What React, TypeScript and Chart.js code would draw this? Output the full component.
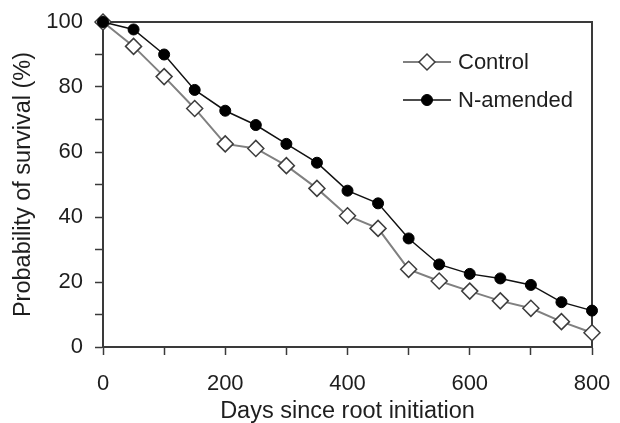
import React, { useEffect, useRef } from 'react';
import { Chart, registerables } from 'chart.js';

Chart.register(...registerables);

const days = [0, 50, 100, 150, 200, 250, 300, 350, 400, 450, 500, 550, 600, 650, 700, 750, 800];
const controlSurvival = [100, 92.5, 83.2, 73.4, 62.5, 61.1, 55.8, 48.8, 40.4, 36.5, 23.9, 20.3, 17.2, 14.2, 11.9, 7.8, 4.4];
const nAmendedSurvival = [100, 97.7, 90.0, 79.1, 72.7, 68.3, 62.5, 56.7, 48.1, 44.2, 33.4, 25.4, 22.5, 21.1, 19.1, 13.8, 11.2];
const seriesLabels = ['Control', 'N-amended'];
const xAxisTitle = 'Days since root initiation';
const yAxisTitle = 'Probability of survival (%)';

const FONT = "'Liberation Sans', Arial, Helvetica, sans-serif";
const AXIS_COLOR = '#3a3a3a';
const TEXT_COLOR = '#1e1e1e';

const framePlugin = {
  id: 'frame',
  beforeDatasetsDraw(chart: any) {
    const { ctx, chartArea } = chart;
    ctx.save();
    ctx.strokeStyle = AXIS_COLOR;
    ctx.lineWidth = 2;
    ctx.beginPath();
    ctx.moveTo(chartArea.left, chartArea.top);
    ctx.lineTo(chartArea.right, chartArea.top);
    ctx.lineTo(chartArea.right, chartArea.bottom);
    ctx.stroke();
    ctx.restore();
  },
};

const legendPlugin = {
  id: 'lineLegend',
  afterDraw(chart: any) {
    const { ctx, chartArea } = chart;
    const x0 = chartArea.left + 300;
    const rows = [chartArea.top + 40, chartArea.top + 78];
    chart.data.datasets.forEach((ds: any, i: number) => {
      const y = rows[i];
      ctx.save();
      ctx.strokeStyle = ds.borderColor;
      ctx.lineWidth = ds.borderWidth;
      ctx.beginPath();
      ctx.moveTo(x0, y);
      ctx.lineTo(x0 + 48, y);
      ctx.stroke();
      ctx.restore();
      const cx = x0 + 24;
      ctx.save();
      ctx.fillStyle = ds.pointBackgroundColor;
      ctx.strokeStyle = ds.pointBorderColor;
      ctx.lineWidth = ds.pointBorderWidth;
      ctx.beginPath();
      if (ds.pointStyle === 'rectRot') {
        const r = ds.pointRadius;
        ctx.moveTo(cx, y - r);
        ctx.lineTo(cx + r, y);
        ctx.lineTo(cx, y + r);
        ctx.lineTo(cx - r, y);
        ctx.closePath();
      } else {
        ctx.arc(cx, y, ds.pointRadius, 0, Math.PI * 2);
      }
      ctx.fill();
      ctx.stroke();
      ctx.restore();
      ctx.save();
      ctx.fillStyle = TEXT_COLOR;
      ctx.font = `22px ${FONT}`;
      ctx.textBaseline = 'middle';
      ctx.textAlign = 'left';
      ctx.fillText(ds.label, x0 + 55, y + 1);
      ctx.restore();
    });
  },
};

export default function App() {
  const canvasRef = useRef<HTMLCanvasElement | null>(null);

  useEffect(() => {
    const canvas = canvasRef.current;
    if (!canvas) return;
    const chart = new Chart(canvas, {
      type: 'line',
      data: {
        datasets: [
          {
            label: seriesLabels[0],
            data: days.map((d, i) => ({ x: d, y: controlSurvival[i] })),
            borderColor: '#808080',
            borderWidth: 2,
            pointStyle: 'rectRot',
            pointRadius: 8,
            pointBackgroundColor: '#ffffff',
            pointBorderColor: '#3c3c3c',
            pointBorderWidth: 1.5,
            tension: 0,
            clip: false,
            order: 2,
          },
          {
            label: seriesLabels[1],
            data: days.map((d, i) => ({ x: d, y: nAmendedSurvival[i] })),
            borderColor: '#111111',
            borderWidth: 1.5,
            pointStyle: 'circle',
            pointRadius: 5.5,
            pointBackgroundColor: '#000000',
            pointBorderColor: '#000000',
            pointBorderWidth: 1,
            tension: 0,
            clip: false,
            order: 1,
          },
        ] as any,
      },
      options: {
        animation: false,
        responsive: false,
        devicePixelRatio: 1,
        layout: { padding: { top: 22, right: 28, left: 0, bottom: 0 } },
        plugins: {
          legend: { display: false },
          tooltip: { enabled: false },
        },
        scales: {
          x: {
            type: 'linear',
            min: 0,
            max: 800,
            afterFit: (scale: any) => {
              scale.height = 76;
              scale.paddingLeft = 0;
              scale.paddingRight = 0;
            },
            ticks: {
              stepSize: 100,
              autoSkip: false,
              maxRotation: 0,
              padding: 16,
              color: TEXT_COLOR,
              font: { family: FONT, size: 22 },
              callback: (v: any) => (Number(v) % 200 === 0 ? String(v) : ''),
            },
            grid: {
              display: true,
              drawOnChartArea: false,
              drawTicks: true,
              tickLength: 8,
              tickWidth: 1.5,
              tickColor: AXIS_COLOR,
            },
            border: { display: true, color: AXIS_COLOR, width: 2 },
            title: {
              display: true,
              text: xAxisTitle,
              color: TEXT_COLOR,
              font: { family: FONT, size: 23.5, lineHeight: 1 },
              padding: { top: 0, bottom: 0 },
            },
          },
          y: {
            type: 'linear',
            min: 0,
            max: 100,
            afterFit: (scale: any) => {
              scale.width = 103;
              scale.paddingTop = 0;
              scale.paddingBottom = 0;
            },
            ticks: {
              stepSize: 10,
              autoSkip: false,
              padding: 12,
              color: TEXT_COLOR,
              font: { family: FONT, size: 22 },
              callback: (v: any) => (Number(v) % 20 === 0 ? String(v) : ''),
            },
            grid: {
              display: true,
              drawOnChartArea: false,
              drawTicks: true,
              tickLength: 8,
              tickWidth: 1.5,
              tickColor: AXIS_COLOR,
            },
            border: { display: true, color: AXIS_COLOR, width: 2 },
            title: {
              display: true,
              text: yAxisTitle,
              color: TEXT_COLOR,
              font: { family: FONT, size: 23.5, lineHeight: 1 },
              padding: { top: 12, bottom: 0 },
            },
          },
        },
      } as any,
      plugins: [framePlugin, legendPlugin],
    });
    return () => chart.destroy();
  }, []);

  return (
    <div style={{ position: 'fixed', left: 0, top: 0, width: 620, height: 423, background: '#ffffff' }}>
      <canvas ref={canvasRef} width={620} height={423} style={{ width: 620, height: 423, display: 'block' }} />
    </div>
  );
}
